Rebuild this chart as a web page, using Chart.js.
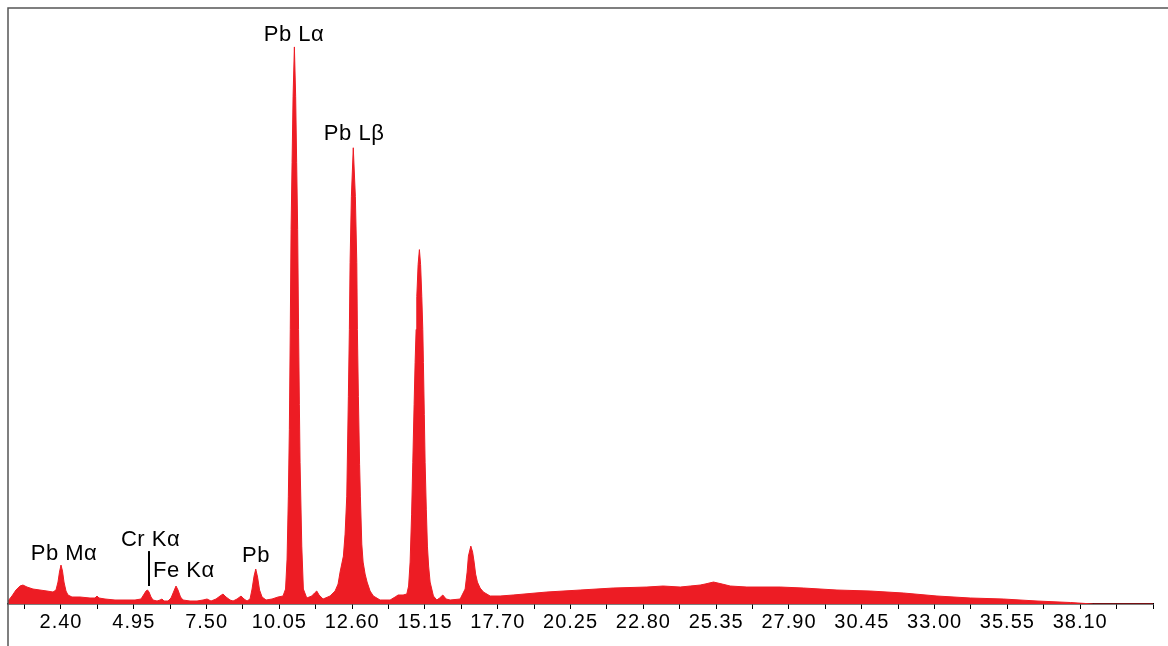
<!DOCTYPE html>
<html>
<head>
<meta charset="utf-8">
<script src="https://cdn.jsdelivr.net/npm/chart.js@4.4.1/dist/chart.umd.min.js"></script>
<style>
  html, body { margin: 0; padding: 0; background: #ffffff; }
  #wrap { width: 1168px; height: 646px; position: relative; }
</style>
</head>
<body>
<div id="wrap"><canvas id="c" width="1168" height="646"></canvas></div>
<script>
// Energy (keV) of each spectrum sample
const energies = [
  0.543, 0.683, 0.823, 0.963, 1.068, 1.209, 1.419, 1.664, 1.909, 2.120,
  2.225, 2.295, 2.347, 2.400, 2.453, 2.505, 2.575, 2.645, 2.785, 3.066,
  3.416, 3.591, 3.661, 3.731, 3.942, 4.292, 4.642, 4.993, 5.203, 5.291,
  5.378, 5.431, 5.483, 5.553, 5.624, 5.764, 5.869, 5.939, 6.009, 6.149,
  6.254, 6.342, 6.429, 6.499, 6.587, 6.675, 6.920, 7.165, 7.375, 7.516,
  7.656, 7.831, 7.971, 8.076, 8.181, 8.322, 8.427, 8.567, 8.707, 8.812,
  8.917, 9.022, 9.093, 9.163, 9.222, 9.285, 9.355, 9.443, 9.583, 9.793,
  10.003, 10.178, 10.266, 10.319, 10.364, 10.399, 10.431, 10.459, 10.494, 10.529,
  10.575, 10.620, 10.655, 10.690, 10.722, 10.750, 10.774, 10.834, 10.890, 11.009,
  11.184, 11.282, 11.359, 11.440, 11.580, 11.825, 12.001, 12.106, 12.176, 12.292,
  12.351, 12.410, 12.466, 12.501, 12.526, 12.571, 12.638, 12.711, 12.761, 12.782,
  12.817, 12.859, 12.887, 12.936, 12.982, 13.052, 13.122, 13.227, 13.342, 13.577,
  13.928, 14.103, 14.208, 14.383, 14.513, 14.576, 14.629, 14.681, 14.723, 14.769,
  14.804, 14.839, 14.863, 14.909, 14.954, 14.996, 15.038, 15.073, 15.094, 15.126,
  15.154, 15.196, 15.235, 15.277, 15.329, 15.445, 15.564, 15.662, 15.774, 15.890,
  16.030, 16.381, 16.556, 16.626, 16.671, 16.755, 16.818, 16.871, 16.923, 16.986,
  17.081, 17.197, 17.432, 17.782, 18.238, 19.418, 20.585, 21.741, 22.922, 23.493,
  24.089, 24.440, 24.790, 24.960, 25.256, 25.560, 25.841, 26.426, 27.593, 28.409,
  29.580, 30.746, 31.913, 33.083, 34.250, 35.406, 36.587, 37.754, 38.560, 40.650
];

// Counts (arbitrary units)
const counts = [
  3, 8, 14, 18, 19, 17, 15, 14, 13, 12,
  14, 22, 32, 39, 33, 22, 13, 9, 7, 7,
  6, 6, 8, 6, 5, 4, 4, 4, 5, 9,
  13, 14, 12, 7, 4, 3, 4, 5, 3, 3,
  6, 12, 18, 14, 7, 4, 3, 3, 4, 5,
  3, 5, 8, 10, 7, 4, 3, 5, 8, 5,
  3, 5, 15, 28, 35, 27, 14, 7, 4, 5,
  7, 8, 15, 45, 108, 175, 275, 375, 442, 508,
  558, 508, 442, 375, 275, 200, 142, 58, 15, 6,
  8, 11, 13, 9, 5, 8, 13, 20, 32, 48,
  70, 108, 208, 275, 342, 408, 457, 408, 342, 275,
  208, 140, 108, 60, 42, 30, 22, 13, 8, 4,
  4, 7, 9, 9, 10, 18, 42, 90, 142, 200,
  242, 275, 308, 340, 355, 340, 308, 275, 242, 190,
  142, 95, 58, 38, 22, 8, 4, 6, 9, 5,
  4, 5, 15, 32, 48, 58, 52, 42, 30, 22,
  16, 12, 8, 8, 9, 12, 14, 16, 17, 18,
  17, 18, 19, 20, 22, 20, 18, 17, 17, 16,
  14, 13, 11, 8, 6, 5, 3, 1.5, 0, 0
];

// Axis ticks (keV) and which of them carry a label
const tickValues = [
  1.125, 2.40, 3.675, 4.95, 6.225, 7.50, 8.775, 10.05, 11.325, 12.60,
  13.875, 15.15, 16.425, 17.70, 18.975, 20.25, 21.525, 22.80, 24.075, 25.35,
  26.625, 27.90, 29.175, 30.45, 31.725, 33.00, 34.275, 35.55, 36.825, 38.10,
  39.375, 40.65
];
const tickLabels = [
  '2.40', '4.95', '7.50', '10.05', '12.60', '15.15', '17.70', '20.25',
  '22.80', '25.35', '27.90', '30.45', '33.00', '35.55', '38.10'
];

// Peak annotations (text, energy, height of text baseline, alignment)
const peakNames = ['Pb M\u03b1', 'Cr K\u03b1', 'Fe K\u03b1', 'Pb', 'Pb L\u03b1', 'Pb L\u03b2'];
const peakLabelEnergies = [2.505, 5.536, 5.623, 9.233, 10.564, 12.666];
const peakLabelHeights = [44, 58, 27, 42, 564, 465];
const peakLabelAlign = ['center', 'center', 'left', 'center', 'center', 'center'];
// Marker line for Cr K alpha: energy, from height, to height
const markerEnergy = 5.483;
const markerRange = [18, 53];

const spectrum = energies.map((e, i) => ({ x: e, y: counts[i] }));

const framePlugin = {
  id: 'frame',
  beforeDraw(chart) {
    if ('letterSpacing' in chart.ctx) chart.ctx.letterSpacing = '1px';
  },
  afterDraw(chart) {
    const ctx = chart.ctx;
    const a = chart.chartArea;
    const xs = chart.scales.x, ys = chart.scales.y;
    ctx.save();
    if ('letterSpacing' in ctx) ctx.letterSpacing = '0.5px';
    // frame: top and left
    ctx.strokeStyle = '#555555';
    ctx.lineWidth = 1.5;
    ctx.beginPath();
    ctx.moveTo(a.left, chart.height);
    ctx.lineTo(a.left, a.top);
    ctx.lineTo(chart.width, a.top);
    ctx.stroke();
    // labels
    ctx.fillStyle = '#000000';
    ctx.font = '22px "Liberation Sans", Arial, sans-serif';
    ctx.textBaseline = 'alphabetic';
    peakNames.forEach((t, i) => {
      ctx.textAlign = peakLabelAlign[i];
      ctx.fillText(t, xs.getPixelForValue(peakLabelEnergies[i]), ys.getPixelForValue(peakLabelHeights[i]));
    });
    // marker line
    ctx.strokeStyle = '#000000';
    ctx.lineWidth = 2;
    ctx.beginPath();
    const mx = xs.getPixelForValue(markerEnergy);
    ctx.moveTo(mx, ys.getPixelForValue(markerRange[0]));
    ctx.lineTo(mx, ys.getPixelForValue(markerRange[1]));
    ctx.stroke();
    ctx.restore();
    if ('letterSpacing' in ctx) ctx.letterSpacing = '0px';
  }
};

new Chart(document.getElementById('c'), {
  type: 'line',
  data: {
    datasets: [{
      data: spectrum,
      borderColor: '#ED1C24',
      backgroundColor: '#ED1C24',
      borderWidth: 1,
      pointRadius: 0,
      tension: 0,
      fill: 'origin'
    }]
  },
  options: {
    responsive: false,
    animation: false,
    events: [],
    layout: { padding: { left: 8, top: 8, right: 15, bottom: 11 } },
    plugins: { legend: { display: false }, tooltip: { enabled: false } },
    scales: {
      x: {
        type: 'linear',
        min: 0.544,
        max: 40.65,
        afterBuildTicks(scale) {
          scale.ticks = tickValues.map(v => ({ value: v }));
        },
        grid: { drawOnChartArea: false, drawTicks: true, tickLength: 5, color: '#000000', lineWidth: 1 },
        border: { display: true, color: '#000000', width: 1.5 },
        ticks: {
          autoSkip: false,
          maxRotation: 0,
          padding: 1,
          color: '#000000',
          font: { family: '"Liberation Sans", Arial, sans-serif', size: 20 },
          callback(value) {
            const s = Number(value).toFixed(2);
            return tickLabels.includes(s) ? s : '';
          }
        }
      },
      y: { display: false, min: 0, max: 597 }
    }
  },
  plugins: [framePlugin]
});
</script>
</body>
</html>
